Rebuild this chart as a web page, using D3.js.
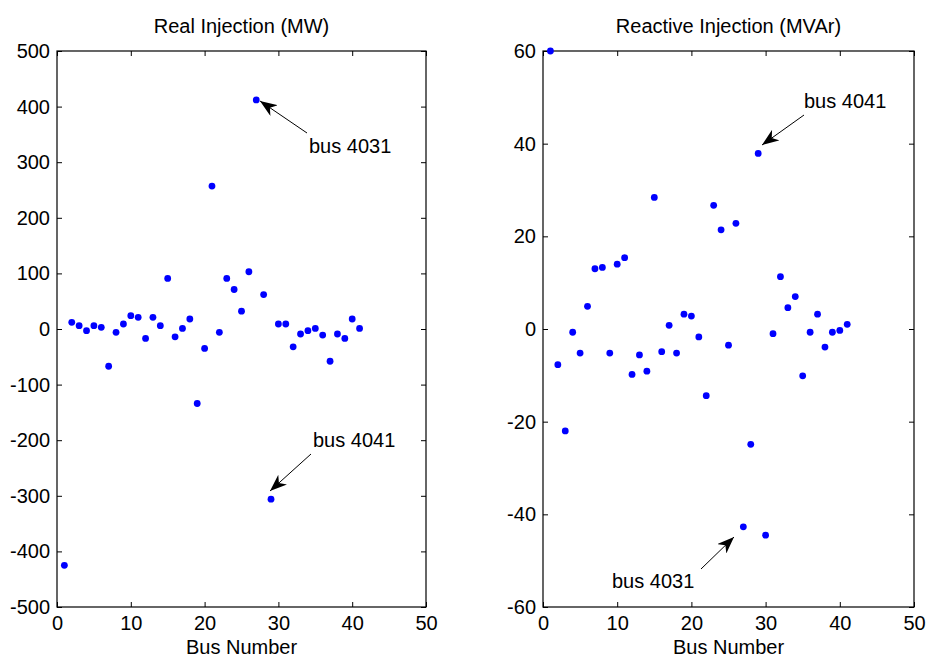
<!DOCTYPE html>
<html>
<head>
<meta charset="utf-8">
<script src="https://cdn.jsdelivr.net/npm/d3@7"></script>
<style>
  body { margin: 0; background: #fff; }
  text { font-family: "Liberation Sans", Arial, sans-serif; fill: #000; }
</style>
</head>
<body>
<script>
const w = 928;
const h = 659;

// bus index 1..41
const busNumbers = d3.range(1, 42);

// real power injection (MW)
const realMW = [
  -425, 12, 6, -3, 6, 3, -67, -6, 9, 24,
  21, -17, 21, 6, 91, -14, 1, 18, -134, -35,
  257, -6, 91, 71, 32, 103, 412, 62, -306, 9,
  9, -32, -9, -3, 1, -11, -58, -9, -17, 18, 1
];

// reactive power injection (MVAr)
const reactiveMVAr = [
  60, -7.7, -22, -0.7, -5.2, 4.9, 13, 13.3, -5.2, 14,
  15.4, -9.8, -5.6, -9.1, 28.4, -4.9, 0.8, -5.2, 3.2, 2.8,
  -1.7, -14.4, 26.7, 21.4, -3.5, 22.8, -42.7, -24.9, 37.9, -44.5,
  -1, 11.3, 4.6, 7, -10.1, -0.7, 3.2, -3.9, -0.7, -0.3, 1
];

const xTicks = [0, 10, 20, 30, 40, 50];
const realTicks = [-500, -400, -300, -200, -100, 0, 100, 200, 300, 400, 500];
const reactiveTicks = [-60, -40, -20, 0, 20, 40, 60];

const fontSize = 20;
const plain = (d) => String(d); // hyphen minus like the original

const svg = d3.select("body").append("svg").attr("width", w).attr("height", h);

svg.append("defs").append("marker")
  .attr("id", "head")
  .attr("viewBox", "0 0 17 13")
  .attr("refX", 17).attr("refY", 6.5)
  .attr("markerWidth", 17).attr("markerHeight", 13)
  .attr("markerUnits", "userSpaceOnUse")
  .attr("orient", "auto")
  .append("path")
  .attr("d", "M0,0 L17,6.5 L0,13 L5,6.5 Z")
  .attr("fill", "#000");

function panel(opts) {
  const { left, right, top, bottom, yDomain, yTicks, values, title, notes } = opts;

  const x = d3.scaleLinear().domain([0, 50]).range([left, right]);
  const y = d3.scaleLinear().domain(yDomain).range([bottom, top]);

  const g = svg.append("g");
  const tickLen = 5;

  // bottom / left axes with inner ticks
  g.append("g")
    .attr("transform", "translate(0," + bottom + ")")
    .call(d3.axisBottom(x).tickValues(xTicks).tickFormat(plain).tickSizeInner(-tickLen).tickSizeOuter(0).tickPadding(9))
    .call(a => a.select(".domain").remove());

  g.append("g")
    .attr("transform", "translate(" + left + ",0)")
    .call(d3.axisLeft(y).tickValues(yTicks).tickFormat(plain).tickSizeInner(-tickLen).tickSizeOuter(0).tickPadding(7))
    .call(a => a.select(".domain").remove());

  // top / right ticks, no labels
  g.append("g")
    .attr("transform", "translate(0," + top + ")")
    .call(d3.axisTop(x).tickValues(xTicks).tickSizeInner(-tickLen).tickSizeOuter(0).tickFormat(""))
    .call(a => a.select(".domain").remove());

  g.append("g")
    .attr("transform", "translate(" + right + ",0)")
    .call(d3.axisRight(y).tickValues(yTicks).tickSizeInner(-tickLen).tickSizeOuter(0).tickFormat(""))
    .call(a => a.select(".domain").remove());

  g.selectAll(".tick text")
    .attr("font-size", fontSize)
    .attr("font-family", "Liberation Sans, Arial, sans-serif")
    .attr("fill", "#000");
  g.selectAll(".tick line").attr("stroke", "#000");

  g.append("rect")
    .attr("x", left).attr("y", top)
    .attr("width", right - left).attr("height", bottom - top)
    .attr("fill", "none").attr("stroke", "#000").attr("stroke-width", 1.2);

  g.selectAll("circle")
    .data(busNumbers)
    .enter()
    .append("circle")
    .attr("cx", (d) => x(d))
    .attr("cy", (d, i) => y(values[i]))
    .attr("r", 3.4)
    .attr("fill", "#0000ff");

  g.append("text")
    .attr("x", (left + right) / 2).attr("y", top - 18)
    .attr("text-anchor", "middle")
    .attr("font-size", fontSize)
    .text(title);

  g.append("text")
    .attr("x", (left + right) / 2).attr("y", bottom + 47)
    .attr("text-anchor", "middle")
    .attr("font-size", fontSize)
    .text("Bus Number");

  notes.forEach(function (n) {
    g.append("line")
      .attr("x1", n.tail[0]).attr("y1", n.tail[1])
      .attr("x2", n.head[0]).attr("y2", n.head[1])
      .attr("stroke", "#000").attr("stroke-width", 1)
      .attr("marker-end", "url(#head)");
    g.append("text")
      .attr("x", n.pos[0]).attr("y", n.pos[1])
      .attr("font-size", fontSize)
      .text(n.label);
  });
}

panel({
  left: 57, right: 426, top: 51, bottom: 607,
  yDomain: [-500, 500], yTicks: realTicks, values: realMW,
  title: "Real Injection (MW)",
  notes: [
    { label: "bus 4031", pos: [309, 153], tail: [307, 133], head: [260, 101] },
    { label: "bus 4041", pos: [313, 447], tail: [311, 454], head: [270, 491] }
  ]
});

panel({
  left: 543, right: 914, top: 51, bottom: 607,
  yDomain: [-60, 60], yTicks: reactiveTicks, values: reactiveMVAr,
  title: "Reactive Injection (MVAr)",
  notes: [
    { label: "bus 4041", pos: [804, 108], tail: [804, 115], head: [762, 145] },
    { label: "bus 4031", pos: [612, 588], tail: [701, 569], head: [734, 537] }
  ]
});
</script>
</body>
</html>
